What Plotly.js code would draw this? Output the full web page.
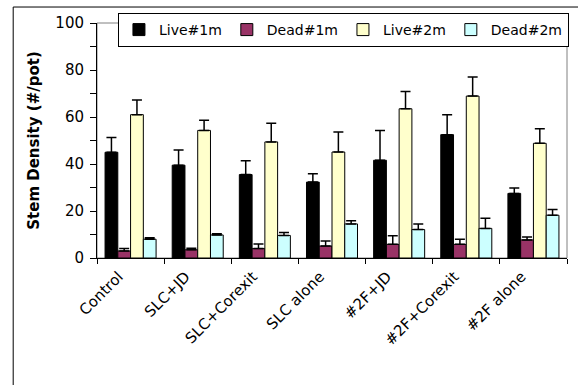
<!DOCTYPE html>
<html>
<head>
<meta charset="utf-8">
<script src="https://cdn.plot.ly/plotly-3.0.1.min.js"></script>
<style>html,body{margin:0;padding:0;background:#fff;}#chart{width:578px;height:385px;}</style>
</head>
<body>
<div id="chart"></div>
<script>
var categories = ["Control", "SLC+JD", "SLC+Corexit", "SLC alone", "#2F+JD", "#2F+Corexit", "#2F alone"];
var seriesNames = ["Live#1m", "Dead#1m", "Live#2m", "Dead#2m"];
var live1m = [45, 39.5, 35.5, 32.3, 41.6, 52.5, 27.5];
var live1mErr = [6.3, 6.5, 5.9, 3.6, 12.7, 8.5, 2.3];
var dead1m = [3, 3.5, 4, 5.1, 5.8, 5.8, 7.7];
var dead1mErr = [1, 0.6, 2, 2.1, 3.7, 2.2, 1.2];
var live2m = [61, 54.3, 49.4, 45.1, 63.5, 68.9, 48.8];
var live2mErr = [6.2, 4.3, 7.9, 8.5, 7.3, 8.1, 6.2];
var dead2m = [8, 9.8, 9.6, 14.5, 12.1, 12.6, 18.2];
var dead2mErr = [0.6, 0.5, 1.2, 1.4, 2.4, 4.3, 2.4];
var yTicks = [0, 20, 40, 60, 80, 100];

var colors = ["#000000", "#993366", "#FFFFCC", "#CCFFFF"];
var values = [live1m, dead1m, live2m, dead2m];
var errs = [live1mErr, dead1mErr, live2mErr, dead2mErr];

var traces = values.map(function (v, i) {
  return {
    type: "bar",
    name: seriesNames[i],
    x: categories,
    y: v,
    marker: { color: colors[i], line: { color: "#000000", width: 1 } },
    error_y: {
      type: "data", symmetric: false, array: errs[i],
      arrayminus: errs[i].map(function () { return 0; }),
      color: "#000000", thickness: 1.5, width: 5
    }
  };
});

var font = { family: "DejaVu Sans", size: 15, color: "#000000" };
var legendFont = { family: "DejaVu Sans", size: 14, color: "#000000" };

var layout = {
  width: 578, height: 385,
  margin: { l: 97, r: 10, t: 23, b: 127, pad: 0 },
  paper_bgcolor: "#ffffff", plot_bgcolor: "#ffffff",
  font: font,
  barmode: "group", bargap: 0.24, bargroupgap: 0,
  showlegend: true,
  legend: {
    orientation: "h", x: 1.002, xanchor: "right", y: 1.0426, yanchor: "top",
    bgcolor: "#ffffff", bordercolor: "#000000", borderwidth: 1,
    font: legendFont, traceorder: "normal"
  },
  xaxis: {
    type: "category", showline: true, linecolor: "#000000", linewidth: 1,
    ticks: "outside", tickson: "boundaries", ticklen: 5, tickcolor: "#000000",
    tickangle: -45, showgrid: false, zeroline: false, tickfont: font,
    ticklabelstandoff: 3, ticklabelshift: -12
  },
  yaxis: {
    range: [0, 100], tickvals: yTicks, ticktext: yTicks.map(String),
    showline: true, linecolor: "#000000", linewidth: 1,
    ticks: "outside", ticklen: 6, tickcolor: "#000000",
    minor: { dtick: 10, ticks: "outside", ticklen: 6, tickcolor: "#000000", showgrid: false },
    showgrid: false, zeroline: false, tickfont: font, ticklabelstandoff: 3,
    title: { text: "<b>Stem Density (#/pot)</b>", font: font, standoff: 12 }
  },
  shapes: [
    { type: "rect", xref: "paper", yref: "paper", x0: 0, x1: 1, y0: 0, y1: 1,
      line: { color: "#808080", width: 1 }, fillcolor: "rgba(0,0,0,0)", layer: "below" },
    { type: "rect", xref: "paper", yref: "paper", x0: -0.1783, x1: 1.08, y0: -0.65, y1: 1.068,
      line: { color: "#000000", width: 1 }, fillcolor: "rgba(0,0,0,0)", layer: "below" }
  ]
};

Plotly.newPlot("chart", traces, layout, { staticPlot: true, displayModeBar: false });
</script>
</body>
</html>
